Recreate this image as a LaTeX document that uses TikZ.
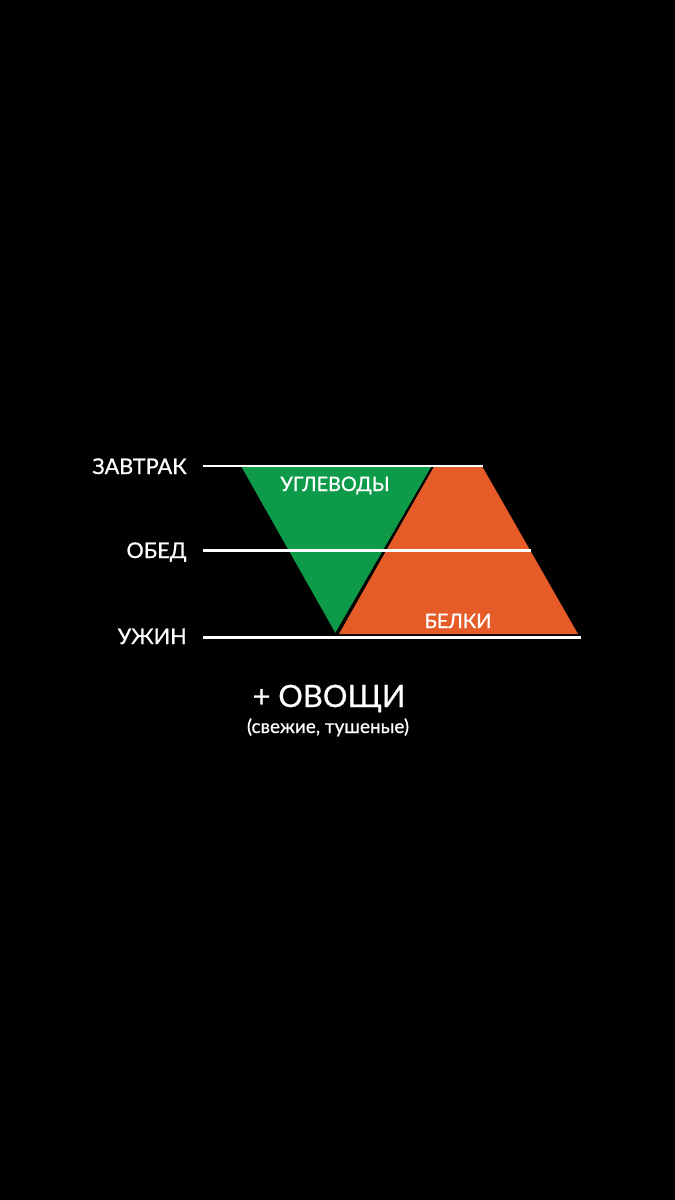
\documentclass[tikz,border=0pt]{standalone}
\usepackage{fontspec}
\setmainfont{Lato}[FakeBold=0.7]
\usetikzlibrary{calc}

\definecolor{zelen}{RGB}{13,155,73}
\definecolor{oranzh}{RGB}{230,92,40}

\begin{document}
\begin{tikzpicture}[x=0.02cm,y=-0.02cm,line join=round,
	liniya/.style={white,line width=1.7pt},
	metka/.style={white,inner sep=0pt,font=\fontsize{12.3}{15}\selectfont,anchor=base east},
	vnutri/.style={white,inner sep=0pt,font=\fontsize{11.3}{13}\selectfont,anchor=base}]
	% fon
	\fill[black] (0,0) rectangle (675,1200);
	\useasboundingbox (0,0) rectangle (675,1200);
	% zelenyj treugolnik i oranzhevaja trapecija
	\coordinate (G1) at (241,466);
	\coordinate (G2) at (433,466);
	\coordinate (G3) at (336,634);
	\coordinate (O1) at (434,466);
	\coordinate (O2) at (482,466);
	\coordinate (O3) at (578,634);
	\coordinate (O4) at (339,634);
	\fill[oranzh](O1)--(O2)--(O3)--(O4)--cycle;
	\fill[zelen](G1)--(G2)--(G3)--cycle;
	\draw[black,line width=1.2pt]($(G2)!-0.02!(G3)$)--($(G2)!1.02!(G3)$);
	% urovni
	\coordinate (Z0) at (203,466);
	\coordinate (Z1) at (483,466);
	\coordinate (B0) at (203,550);
	\coordinate (B1) at (531,550);
	\coordinate (U0) at (203,637);
	\coordinate (U1) at (581,637);
	\draw[liniya](Z0)--(Z1);
	\draw[liniya](B0)--(B1);
	\draw[liniya](U0)--(U1);
	\node[metka] (zavtrak) at (187,474) {ЗАВТРАК};
	\node[metka] (obed) at (187,558) {ОБЕД};
	\node[metka] (uzhin) at (187,644) {УЖИН};
	\node[vnutri] (ugl) at (335,491) {УГЛЕВОДЫ};
	\node[vnutri] (belki) at (458,628) {БЕЛКИ};
	% ovoshchi
	\node[white,inner sep=0pt,anchor=base,font=\fontsize{17.5}{20}\selectfont] (ovoshchi) at (329,707) {+ ОВОЩИ};
	\node[white,inner sep=0pt,anchor=base,font=\fontsize{10.8}{12}\selectfont] (svezhie) at (328,733) {(свежие, тушеные)};
\end{tikzpicture}
\end{document}
